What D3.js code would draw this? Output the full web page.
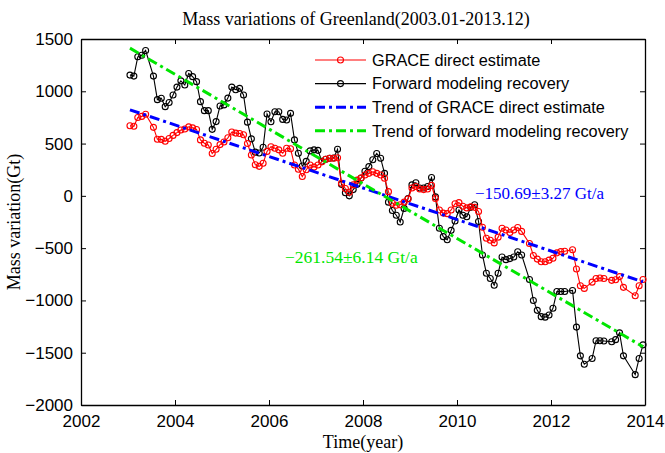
<!DOCTYPE html>
<html>
<head>
<meta charset="utf-8">
<script src="https://cdn.jsdelivr.net/npm/d3@7"></script>
<style>
  html, body { margin: 0; padding: 0; background: #fff; }
  svg { display: block; }
</style>
</head>
<body>
<div id="chart"></div>
<script>
// Monthly mass anomalies (Gt), Jan 2003 .. Dec 2013; null = missing month
const startYear = 2003;
const graceDirect = [
  670, 665, 750, 760, 780, null, 655, 542, 540, 522, 548, 578,
  605, 630, 640, 660, 650, 635, 535, 503, 487, 405, 445, 490,
  515, 555, 610, 600, 597, 585, 500, 390, 298, 282, 312, 425,
  470, 455, 440, 408, 455, 450, 295, 255, 185, 250, 295, 275,
  295, 325, 350, 360, 360, 365, 120, 70, 35, 105, 150, 170,
  200, 215, 230, 215, 200, 168, 40, -70, -90, -85, -60, -30,
  75, 90, 65, 60, 65, 100, -25, -135, -165, -170, -135, -75,
  -65, -100, -115, -105, -110, -150, -300, -405, -425, -450, -395, -310,
  -326, -350, -326, -303, -340, null, -455, -570, -605, -630, -630, -615,
  -597, -545, -533, -530, null, -515, -700, -860, -885, null, -825, -790,
  -785, -790, null, -808, -802, -772, -875, null, null, -955, -860, -800
];
const forwardModel = [
  1155, 1145, 1330, 1345, 1390, null, 1145, 920, 933, 853, 893, 965,
  1040, 1100, 1060, 1170, 1140, 1092, 901, 815, 815, 636, 710, 860,
  870, 935, 1040, 1015, 1028, 965, 705, 545, 418, 410, 465, 783,
  709, 805, 805, 731, 725, 789, 535, 407, 285, 330, 430, 440,
  435, 330, 350, 360, 362, 445, 110, 30, 0, 60, 110, 170,
  235, 280, 345, 405, 360, 215, -60, -140, -185, -250, -120, -25,
  105, 125, 75, 75, 90, 175, -10, -310, -390, -420, -330, -240,
  -135, -185, -200, -110, -85, -245, -565, -740, -790, -855, -740, -585,
  -610, -600, -585, -535, -565, null, -800, -1000, -1095, -1155, -1160, -1140,
  -1075, -915, -915, -915, null, -905, -1255, -1530, -1610, null, -1555, -1385,
  -1385, -1388, null, -1395, -1375, -1310, -1530, null, null, -1710, -1555, -1425
];
// Linear trends: rate (Gt/a) and value at the mid epoch 2008.5
const trendRates = [-150.69, -261.54];
const trendErrors = [3.27, 6.14];
const trendMidValues = [0, -15];
const trendMidEpoch = 2008.5;

const xTicks = [2002, 2004, 2006, 2008, 2010, 2012, 2014];
const yTicks = [-2000, -1500, -1000, -500, 0, 500, 1000, 1500];
const legendLabels = [
  "GRACE direct estimate",
  "Forward modeling recovery",
  "Trend of GRACE direct estimate",
  "Trend of forward modeling recovery"
];
const titleText = "Mass variations of Greenland(2003.01-2013.12)";

const W = 665, H = 453;
const margin = { left: 81, right: 20, top: 39, bottom: 48 };
const colors = { grace: "#ff0000", fwd: "#000000", trendG: "#0000ff", trendF: "#00e600" };

const svg = d3.select("#chart").append("svg")
  .attr("width", W).attr("height", H);

const x = d3.scaleLinear().domain([2002, 2014]).range([margin.left, W - margin.right]);
const y = d3.scaleLinear().domain([-2000, 1500]).range([H - margin.bottom, margin.top]);

const monthTime = i => startYear + (i + 0.5) / 12;
const toPoints = arr => arr.map((v, i) => ({ t: monthTime(i), v })).filter(d => d.v !== null);
const gracePts = toPoints(graceDirect);
const fwdPts = toPoints(forwardModel);

const sansFont = "'Liberation Sans', Arial, sans-serif";
const serifFont = "'Liberation Serif', 'Times New Roman', serif";

// Axes (ticks pointing inward, mirrored on top and right)
const axisBottom = d3.axisBottom(x).tickValues(xTicks).tickFormat(d3.format("d")).tickSizeInner(-5).tickSizeOuter(0).tickPadding(10);
const axisLeft = d3.axisLeft(y).tickValues(yTicks).tickFormat(d3.format("d")).tickSizeInner(-5).tickSizeOuter(0).tickPadding(8);
const axisTop = d3.axisTop(x).tickValues(xTicks).tickFormat("").tickSizeInner(-5).tickSizeOuter(0);
const axisRight = d3.axisRight(y).tickValues(yTicks).tickFormat("").tickSizeInner(-5).tickSizeOuter(0);

const gB = svg.append("g").attr("transform", `translate(0,${y(-2000)})`).call(axisBottom);
const gL = svg.append("g").attr("transform", `translate(${x(2002)},0)`).call(axisLeft);
const gT = svg.append("g").attr("transform", `translate(0,${y(1500)})`).call(axisTop);
const gR = svg.append("g").attr("transform", `translate(${x(2014)},0)`).call(axisRight);
[gB, gL, gT, gR].forEach(g => {
  g.select(".domain").attr("stroke", "#000").attr("stroke-width", 1.3);
  g.selectAll(".tick line").attr("stroke", "#000").attr("stroke-width", 1);
  g.selectAll(".tick text").attr("fill", "#000").style("font-family", sansFont).style("font-size", "17px");
});

// Series
const line = d3.line().x(d => x(d.t)).y(d => y(d.v));

function drawSeries(pts, color) {
  svg.append("path").datum(pts)
    .attr("fill", "none").attr("stroke", color).attr("stroke-width", 1.1)
    .attr("d", line);
  svg.append("g").selectAll("circle").data(pts).join("circle")
    .attr("cx", d => x(d.t)).attr("cy", d => y(d.v)).attr("r", 3)
    .attr("fill", "none").attr("stroke", color).attr("stroke-width", 1.1);
}
drawSeries(fwdPts, colors.fwd);
drawSeries(gracePts, colors.grace);

// Trend lines
const tStart = monthTime(0), tEnd = monthTime(graceDirect.length - 1);
const trendColors = [colors.trendG, colors.trendF];
trendRates.forEach((rate, k) => {
  const f = t => trendMidValues[k] + rate * (t - trendMidEpoch);
  svg.append("line")
    .attr("x1", x(tStart)).attr("y1", y(f(tStart)))
    .attr("x2", x(tEnd)).attr("y2", y(f(tEnd)))
    .attr("stroke", trendColors[k]).attr("stroke-width", 3)
    .attr("stroke-dasharray", "10,4,3,4");
});

// Legend
const legend = svg.append("g");
const legX0 = 315, legX1 = 366, legY0 = 60, legDY = 23.6;
legendLabels.forEach((lab, i) => {
  const ly = legY0 + i * legDY;
  const c = [colors.grace, colors.fwd, colors.trendG, colors.trendF][i];
  const ln = legend.append("line")
    .attr("x1", legX0).attr("x2", legX1).attr("y1", ly).attr("y2", ly)
    .attr("stroke", c);
  if (i < 2) {
    ln.attr("stroke-width", 1.1);
    legend.append("circle").attr("cx", (legX0 + legX1) / 2).attr("cy", ly).attr("r", 3)
      .attr("fill", "none").attr("stroke", c).attr("stroke-width", 1.1);
  } else {
    ln.attr("stroke-width", 3).attr("stroke-dasharray", "10,4,3,4");
  }
  legend.append("text").attr("x", 372).attr("y", ly).attr("dy", "0.35em")
    .style("font-family", sansFont).style("font-size", "16.3px").attr("fill", "#000")
    .text(lab);
});

// Rate annotations
const fmt = d3.format(".2f");
svg.append("text").attr("x", 475).attr("y", 199)
  .style("font-family", serifFont).style("font-size", "17px").attr("fill", colors.trendG)
  .text(`${fmt(trendRates[0])}±${fmt(trendErrors[0])} Gt/a`);
svg.append("text").attr("x", 285).attr("y", 263)
  .style("font-family", serifFont).style("font-size", "17.5px").attr("fill", colors.trendF)
  .text(`${fmt(trendRates[1])}±${fmt(trendErrors[1])} Gt/a`);

// Titles
svg.append("text").attr("x", 356).attr("y", 25).attr("text-anchor", "middle")
  .style("font-family", serifFont).style("font-size", "18px").attr("fill", "#000")
  .text(titleText);
svg.append("text").attr("x", 363).attr("y", 448).attr("text-anchor", "middle")
  .style("font-family", serifFont).style("font-size", "18px").attr("fill", "#000")
  .text("Time(year)");
svg.append("text").attr("transform", `translate(20,${(y(-2000) + y(1500)) / 2}) rotate(-90)`)
  .attr("text-anchor", "middle")
  .style("font-family", serifFont).style("font-size", "18px").attr("fill", "#000")
  .text("Mass variation(Gt)");
</script>
</body>
</html>
